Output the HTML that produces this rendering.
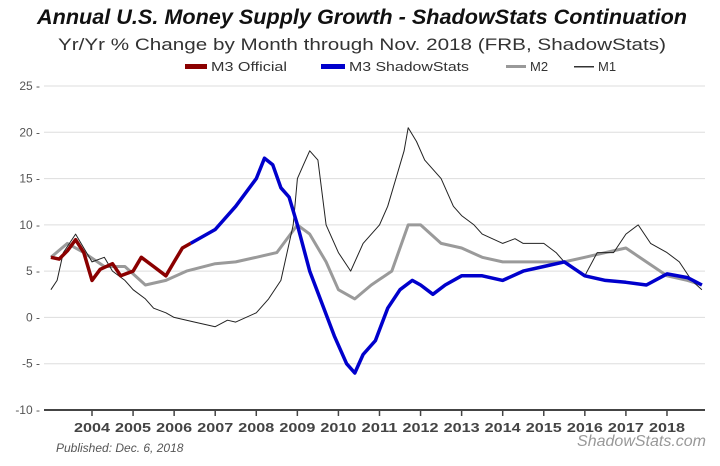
<!DOCTYPE html>
<html><head><meta charset="utf-8"><style>
body{margin:0;background:#fff;}
svg text{font-family:"Liberation Sans",Arial,sans-serif;}
</style></head><body>
<svg width="720" height="461" viewBox="0 0 720 461">
<text x="362" y="24" text-anchor="middle" font-size="21" font-weight="bold" font-style="italic" fill="#111" textLength="650" lengthAdjust="spacingAndGlyphs">Annual U.S. Money Supply Growth - ShadowStats Continuation</text>
<text x="362" y="50" text-anchor="middle" font-size="17" fill="#333" textLength="608" lengthAdjust="spacingAndGlyphs">Yr/Yr % Change by Month through Nov. 2018  (FRB, ShadowStats)</text>
<g>
<rect x="185" y="64" width="22" height="5" fill="#8b0000"/>
<text x="211" y="71" font-size="13" fill="#333" textLength="76" lengthAdjust="spacingAndGlyphs">M3 Official</text>
<rect x="321" y="64" width="24" height="5" fill="#0000cc"/>
<text x="349" y="71" font-size="13" fill="#333" textLength="120" lengthAdjust="spacingAndGlyphs">M3 ShadowStats</text>
<rect x="506" y="65" width="20" height="3" fill="#999"/>
<text x="530" y="71" font-size="13" fill="#333">M2</text>
<rect x="574" y="66" width="20" height="1.5" fill="#333"/>
<text x="598" y="71" font-size="13" fill="#333">M1</text>
</g>
<g id="grid"></g><g id="series"></g><g id="axes"></g>
<text x="56" y="452" font-size="12" font-style="italic" fill="#555">Published: Dec. 6, 2018</text>
<text x="706" y="446" text-anchor="end" font-size="16" font-style="italic" fill="#999">ShadowStats.com</text>
</svg>
<script>
const yTicks=[25,20,15,10,5,0,-5,-10];
const years=[2004,2005,2006,2007,2008,2009,2010,2011,2012,2013,2014,2015,2016,2017,2018];
const m3OffT=[2003.0,2003.2,2003.4,2003.6,2003.8,2004.0,2004.2,2004.5,2004.7,2005.0,2005.2,2005.5,2005.8,2006.0,2006.2,2006.4];
const m3OffV=[6.5,6.3,7.2,8.4,7.0,4.0,5.2,5.8,4.5,5.0,6.5,5.5,4.5,6.0,7.5,8.0];
const m3SsT=[2006.4,2007.0,2007.5,2008.0,2008.2,2008.4,2008.6,2008.8,2009.0,2009.3,2009.6,2009.9,2010.2,2010.4,2010.6,2010.9,2011.2,2011.5,2011.8,2012.0,2012.3,2012.6,2013.0,2013.5,2014.0,2014.5,2015.0,2015.5,2016.0,2016.5,2017.0,2017.5,2018.0,2018.5,2018.85];
const m3SsV=[8.0,9.5,12.0,15.0,17.2,16.5,14.0,13.0,10.0,5.0,1.5,-2.0,-5.0,-6.0,-4.0,-2.5,1.0,3.0,4.0,3.5,2.5,3.5,4.5,4.5,4.0,5.0,5.5,6.0,4.5,4.0,3.8,3.5,4.7,4.3,3.5];
const m2T=[2003.0,2003.4,2003.8,2004.3,2004.8,2005.3,2005.8,2006.3,2007.0,2007.5,2008.0,2008.5,2009.0,2009.3,2009.7,2010.0,2010.4,2010.8,2011.3,2011.7,2012.0,2012.5,2013.0,2013.5,2014.0,2014.5,2015.0,2015.5,2016.0,2016.5,2017.0,2017.5,2018.0,2018.5,2018.85];
const m2V=[6.5,8.0,7.0,5.5,5.5,3.5,4.0,5.0,5.8,6.0,6.5,7.0,10.0,9.0,6.0,3.0,2.0,3.5,5.0,10.0,10.0,8.0,7.5,6.5,6.0,6.0,6.0,6.0,6.5,7.0,7.5,6.0,4.5,4.0,3.5];
const m1T=[2003.0,2003.15,2003.3,2003.6,2003.8,2004.0,2004.3,2004.5,2004.8,2005.0,2005.3,2005.5,2005.8,2006.0,2006.5,2007.0,2007.3,2007.5,2008.0,2008.3,2008.6,2008.9,2009.0,2009.15,2009.3,2009.5,2009.7,2010.0,2010.3,2010.6,2011.0,2011.2,2011.4,2011.6,2011.7,2011.9,2012.1,2012.3,2012.5,2012.8,2013.0,2013.3,2013.5,2014.0,2014.3,2014.5,2015.0,2015.3,2015.5,2016.0,2016.3,2016.7,2017.0,2017.3,2017.6,2018.0,2018.3,2018.6,2018.85];
const m1V=[3.0,4.0,7.0,9.0,7.5,6.0,6.5,5.0,4.0,3.0,2.0,1.0,0.5,0.0,-0.5,-1.0,-0.3,-0.5,0.5,2.0,4.0,10.0,15.0,16.5,18.0,17.0,10.0,7.0,5.0,8.0,10.0,12.0,15.0,18.0,20.5,19.0,17.0,16.0,15.0,12.0,11.0,10.0,9.0,8.0,8.5,8.0,8.0,7.0,6.0,4.5,7.0,7.0,9.0,10.0,8.0,7.0,6.0,4.0,3.0];
const X0=48,X1=705,Y25=86,Y10=410;
const sx=t=>92+(t-2004)*41.07;
const sy=v=>Y25+(25-v)*(Y10-Y25)/35;
const NS="http://www.w3.org/2000/svg";
function mk(tag,attrs,parent){const e=document.createElementNS(NS,tag);for(const k in attrs)e.setAttribute(k,attrs[k]);parent.appendChild(e);return e;}
const grid=document.getElementById('grid'),axes=document.getElementById('axes'),ser=document.getElementById('series');
yTicks.forEach(v=>{
 const l=mk('line',{x1:X0-4,x2:X1,y1:sy(v),y2:sy(v),stroke:v===-10?'#444':'#ddd','stroke-width':v===-10?2:1},v===-10?axes:grid);
 
 
 const t=mk('text',{x:40,y:sy(v)+4,'text-anchor':'end','font-size':12,fill:'#555'},axes);
 t.textContent=v+' -';
 
 
});
years.forEach(y=>{
 const l=mk('line',{x1:sx(y),x2:sx(y),y1:sy(-10),y2:sy(-10)+6,stroke:'#444','stroke-width':1.5},axes);
 
 
 const t=mk('text',{x:sx(y),y:sy(-10)+22,'text-anchor':'middle','font-size':13,'font-weight':'bold',fill:'#444',textLength:36,lengthAdjust:'spacingAndGlyphs'},axes);
 t.textContent=y;
 
 
});
function line(T,V,color,w,name){
 const d=T.map((t,i)=>(i?'L':'M')+sx(t).toFixed(1)+','+sy(V[i]).toFixed(1)).join('');
 const p=mk('path',{d:d,fill:'none',stroke:color,'stroke-width':w,'stroke-linejoin':'round'},ser);
 
 
}
line(m2T,m2V,'#9a9a9a',3,'m2-line');
line(m1T,m1V,'#222',1,'m1-line');
line(m3SsT,m3SsV,'#0000cc',3.5,'m3-shadowstats-line');
line(m3OffT,m3OffV,'#8b0000',3.5,'m3-official-line');
</script>
</body></html>
